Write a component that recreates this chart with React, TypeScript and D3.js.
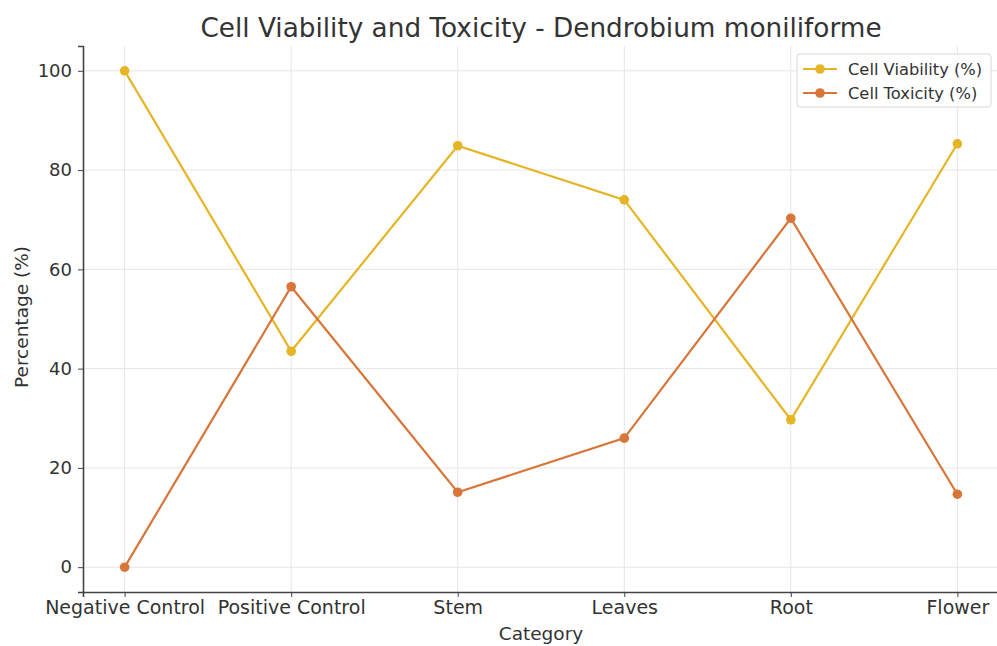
import React, { useEffect, useRef } from 'react';
import * as d3 from 'd3';

const categories = ['Negative Control', 'Positive Control', 'Stem', 'Leaves', 'Root', 'Flower'];
const viability = [100, 43.5, 84.9, 74.0, 29.7, 85.3];
const toxicity = [0, 56.5, 15.1, 26.0, 70.3, 14.7];
const yTicks = [0, 20, 40, 60, 80, 100];

const VIA_COLOR = '#e5b526';
const TOX_COLOR = '#d8763a';

const App = () => {
  const ref = useRef<SVGSVGElement>(null);

  useEffect(() => {
    const width = 997, height = 646;
    const margin = { top: 46, right: -2, bottom: 54, left: 83 };
    const innerW = width - margin.left - margin.right;
    const innerH = height - margin.top - margin.bottom;

    const svg = d3.select(ref.current);
    svg.selectAll('*').remove();
    svg.attr('width', width).attr('height', height)
      .style('font-family', '"DejaVu Sans", sans-serif');

    const g = svg.append('g').attr('transform', `translate(${margin.left},${margin.top})`);

    const x = d3.scaleLinear().domain([-0.25, categories.length - 0.75]).range([0, innerW]);
    const y = d3.scaleLinear().domain([-5, 105]).range([innerH, 0]);

    // grid
    g.append('g').selectAll('line').data(yTicks).enter().append('line')
      .attr('x1', 0).attr('x2', innerW)
      .attr('y1', d => y(d)).attr('y2', d => y(d))
      .attr('stroke', '#e6e6e6').attr('stroke-width', 1);
    g.append('g').selectAll('line').data(categories).enter().append('line')
      .attr('x1', (d, i) => x(i)).attr('x2', (d, i) => x(i))
      .attr('y1', 0).attr('y2', innerH)
      .attr('stroke', '#e6e6e6').attr('stroke-width', 1);

    // axes
    const xAxis = g.append('g').attr('transform', `translate(0,${innerH})`)
      .call(d3.axisBottom(x).tickValues(d3.range(categories.length))
        .tickFormat((d: any) => categories[d]).tickSize(5).tickPadding(4));
    const yAxis = g.append('g')
      .call(d3.axisLeft(y).tickValues(yTicks).tickSize(5).tickPadding(6));
    [xAxis, yAxis].forEach(a => {
      a.select('.domain').attr('stroke', '#444').attr('stroke-width', 1.6);
      a.selectAll('.tick line').attr('stroke', '#444');
      a.selectAll('.tick text').attr('fill', '#333')
        .style('font-family', '"DejaVu Sans", sans-serif');
    });
    xAxis.selectAll('.tick text').style('font-size', '19px');
    yAxis.selectAll('.tick text').style('font-size', '18px');

    const series = [
      { name: 'Cell Viability (%)', values: viability, color: VIA_COLOR },
      { name: 'Cell Toxicity (%)', values: toxicity, color: TOX_COLOR },
    ];

    const line = d3.line<number>().x((d, i) => x(i)).y(d => y(d));

    series.forEach(s => {
      g.append('path').datum(s.values)
        .attr('fill', 'none').attr('stroke', s.color).attr('stroke-width', 2.2)
        .attr('d', line);
      g.selectAll(null).data(s.values).enter().append('circle')
        .attr('cx', (d, i) => x(i)).attr('cy', d => y(d))
        .attr('r', 4.8).attr('fill', s.color);
    });

    // title and labels
    svg.append('text').attr('x', margin.left + innerW / 2).attr('y', 37)
      .attr('text-anchor', 'middle').style('font-size', '26.3px').attr('fill', '#333')
      .text('Cell Viability and Toxicity - Dendrobium moniliforme');
    svg.append('text').attr('x', margin.left + innerW / 2).attr('y', 640)
      .attr('text-anchor', 'middle').style('font-size', '18.5px').attr('fill', '#333')
      .text('Category');
    svg.append('text').attr('transform', `translate(28,${margin.top + y(50) - 2}) rotate(-90)`)
      .attr('text-anchor', 'middle').style('font-size', '18.5px').attr('fill', '#333')
      .text('Percentage (%)');

    // legend
    const lg = svg.append('g').attr('transform', 'translate(797,54)');
    lg.append('rect').attr('width', 194).attr('height', 53).attr('rx', 3)
      .attr('fill', 'white').attr('fill-opacity', 0.85).attr('stroke', '#d8d8d8');
    series.forEach((s, i) => {
      const yy = 15 + i * 24;
      lg.append('line').attr('x1', 6).attr('x2', 40).attr('y1', yy).attr('y2', yy)
        .attr('stroke', s.color).attr('stroke-width', 2.2);
      lg.append('circle').attr('cx', 23).attr('cy', yy).attr('r', 4.8).attr('fill', s.color);
      lg.append('text').attr('x', 51).attr('y', yy + 5.5).style('font-size', '16.3px')
        .attr('fill', '#333').text(s.name);
    });
  }, []);

  return <svg ref={ref} style={{ position: 'absolute', left: 0, top: 0 }} />;
};

export default App;
